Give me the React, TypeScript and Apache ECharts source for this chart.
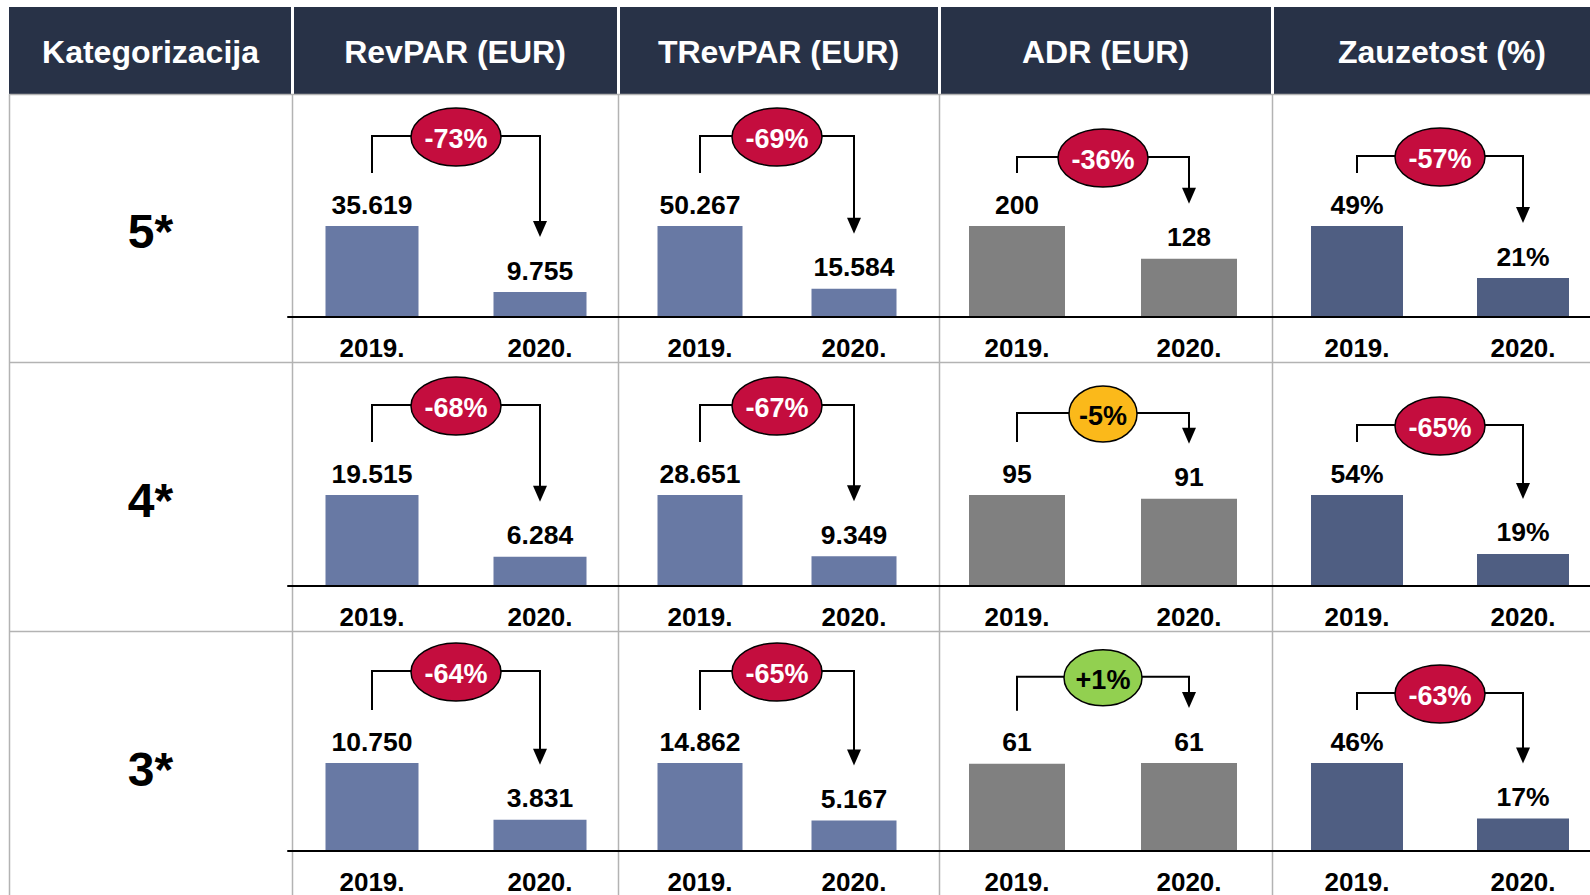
import React, { useEffect, useRef } from 'react';
import * as echarts from 'echarts';

// ---------- data ----------
const HEADERS = ['Kategorizacija', 'RevPAR (EUR)', 'TRevPAR (EUR)', 'ADR (EUR)', 'Zauzetost (%)'];
const CATEGORIES = ['5*', '4*', '3*'];
const YEARS = ['2019.', '2020.'];

const REVPAR_2019 = [35619, 19515, 10750];
const REVPAR_2020 = [9755, 6284, 3831];
const TREVPAR_2019 = [50267, 28651, 14862];
const TREVPAR_2020 = [15584, 9349, 5167];
const ADR_2019 = [200, 95, 60.7];
const ADR_2020 = [128, 91, 61.3];
const OCC_2019 = [49, 54, 46];
const OCC_2020 = [21, 19, 17];

const CHANGE_REVPAR = [-73, -68, -64];
const CHANGE_TREVPAR = [-69, -67, -65];
const CHANGE_ADR = [-36, -5, 1];
const CHANGE_OCC = [-57, -65, -63];

// ---------- layout / style ----------
const W = 1590;
const H = 895;
const CW = 1620; // chart canvas is a bit wider than the page: last column is cut by the page edge
const FONT = '"Liberation Sans", Arial, Helvetica, sans-serif';
const HEADER_TOP = 7;
const HEADER_BOTTOM = 94;
const COL_X = [9, 292, 618, 939, 1272, 1612];
const ROW_Y = [94, 362, 631, 900];
const BASELINES = [317, 586, 854];
const ROW_LABEL_Y = [231, 500, 769];
const BAR_AREA = 91;
const GRID_X = [
  [288, 336],
  [623, 308],
  [931, 344],
  [1274, 332],
];
const BAR_W = [93, 85, 96, 92];
const BAR_COLORS = ['#6879a4', '#6879a4', '#808080', '#4f5e82'];
const RISE = [
  [90, 90, 69, 70],
  [90, 90, 82, 70],
  [92, 92, 87, 70],
];
const HEADER_BG = '#283247';
const LINE_GRAY = '#b3b3b3';

const thousands = (v: number) => String(Math.round(v)).replace(/\B(?=(\d{3})+(?!\d))/g, '.');
const integer = (v: number) => String(Math.round(v));
const percent = (v: number) => Math.round(v) + '%';

const METRICS = [
  { v19: REVPAR_2019, v20: REVPAR_2020, ch: CHANGE_REVPAR, fmt: thousands },
  { v19: TREVPAR_2019, v20: TREVPAR_2020, ch: CHANGE_TREVPAR, fmt: thousands },
  { v19: ADR_2019, v20: ADR_2020, ch: CHANGE_ADR, fmt: integer },
  { v19: OCC_2019, v20: OCC_2020, ch: CHANGE_OCC, fmt: percent },
];

function badgeStyle(ch: number) {
  if (ch > 0) return { fill: '#92d050', text: '#000', rx: 39, ry: 28 };
  if (ch > -10) return { fill: '#fbb91a', text: '#000', rx: 34, ry: 28 };
  return { fill: '#c40d3e', text: '#fff', rx: 45, ry: 29 };
}

function buildOption() {
  const grid: any[] = [];
  const xAxis: any[] = [];
  const yAxis: any[] = [];
  const series: any[] = [];
  let idx = 0;
  CATEGORIES.forEach((_, r) => {
    METRICS.forEach((m, c) => {
      const base = BASELINES[r];
      grid.push({ left: GRID_X[c][0], width: GRID_X[c][1], top: base - BAR_AREA, height: BAR_AREA });
      xAxis.push({
        type: 'category',
        gridIndex: idx,
        data: YEARS,
        z: 10,
        axisTick: { show: false },
        axisLine: { show: true, lineStyle: { color: '#000', width: 2 } },
        axisLabel: { margin: 18, fontSize: 26, fontWeight: 'bold', color: '#000', fontFamily: FONT },
      });
      yAxis.push({
        type: 'value',
        gridIndex: idx,
        min: 0,
        max: 'dataMax',
        show: false,
        splitLine: { show: false },
      });
      const fmt = m.fmt;
      series.push({
        type: 'bar',
        xAxisIndex: idx,
        yAxisIndex: idx,
        barWidth: BAR_W[c],
        itemStyle: { color: BAR_COLORS[c] },
        label: {
          show: true,
          position: 'top',
          distance: 8,
          fontSize: 26.5,
          fontWeight: 'bold',
          color: '#000',
          fontFamily: FONT,
          formatter: (p: any) => fmt(p.value),
        },
        data: [m.v19[r], m.v20[r]],
      });
      const rise = RISE[r][c];
      series.push({
        type: 'custom',
        xAxisIndex: idx,
        yAxisIndex: idx,
        encode: { x: 0, y: [1, 2] },
        data: [[0, m.v19[r], m.v20[r], m.ch[r]]],
        z: 5,
        renderItem: (params: any, api: any) => {
          const p19 = api.coord([0, api.value(1)]);
          const p20 = api.coord([1, api.value(2)]);
          const ch = api.value(3);
          const lx = p19[0];
          const rx = p20[0];
          const ly = p19[1] - 53;
          const hy = p19[1] - rise;
          const tip = p20[1] - 55;
          const cx = (lx + rx) / 2;
          const b = badgeStyle(ch);
          const txt = (ch > 0 ? '+' : '') + ch + '%';
          return {
            type: 'group',
            children: [
              {
                type: 'polyline',
                shape: { points: [[lx, ly], [lx, hy], [rx, hy], [rx, tip - 14]] },
                style: { stroke: '#000', lineWidth: 2, fill: 'none' },
              },
              {
                type: 'polygon',
                shape: { points: [[rx - 7, tip - 16], [rx + 7, tip - 16], [rx, tip]] },
                style: { fill: '#000' },
              },
              {
                type: 'ellipse',
                shape: { cx, cy: hy + 1, rx: b.rx, ry: b.ry },
                style: { fill: b.fill, stroke: '#000', lineWidth: 1.5 },
              },
              {
                type: 'text',
                style: {
                  text: txt,
                  x: cx,
                  y: hy + 3,
                  fill: b.text,
                  font: `bold 27px ${FONT}`,
                  textAlign: 'center',
                  textVerticalAlign: 'middle',
                  align: 'center',
                  verticalAlign: 'middle',
                },
              },
            ],
          };
        },
      });
      idx++;
    });
  });

  const graphic: any[] = [];
  // header cells
  for (let i = 0; i < HEADERS.length; i++) {
    const x0 = i === 0 ? COL_X[0] : COL_X[i] + 2;
    const x1 = COL_X[i + 1] - 1;
    graphic.push({
      type: 'rect',
      z: -5,
      shape: { x: x0, y: HEADER_TOP, width: x1 - x0, height: HEADER_BOTTOM - HEADER_TOP },
      style: { fill: HEADER_BG },
    });
    graphic.push({
      type: 'text',
      z: 20,
      x: (COL_X[i] + COL_X[i + 1]) / 2,
      y: (HEADER_TOP + HEADER_BOTTOM) / 2 + 1,
      style: {
        text: HEADERS[i],
        fill: '#fff',
        font: `bold 32px ${FONT}`,
        textAlign: 'center',
        textVerticalAlign: 'middle',
        align: 'center',
        verticalAlign: 'middle',
      },
    });
  }
  // table lines
  for (let i = 0; i < 5; i++) {
    graphic.push({
      type: 'line',
      z: -5,
      shape: { x1: COL_X[i] + 0.5, y1: HEADER_BOTTOM, x2: COL_X[i] + 0.5, y2: H },
      style: { stroke: LINE_GRAY, lineWidth: 1.5 },
    });
  }
  for (let r = 0; r < 3; r++) {
    graphic.push({
      type: 'line',
      z: -5,
      shape: { x1: COL_X[0], y1: ROW_Y[r] + 0.5, x2: CW, y2: ROW_Y[r] + 0.5 },
      style: { stroke: LINE_GRAY, lineWidth: 1.5 },
    });
    graphic.push({
      type: 'text',
      z: 20,
      x: (COL_X[0] + COL_X[1]) / 2,
      y: ROW_LABEL_Y[r],
      style: {
        text: CATEGORIES[r],
        fill: '#000',
        font: `bold 48px ${FONT}`,
        textAlign: 'center',
        textVerticalAlign: 'middle',
        align: 'center',
        verticalAlign: 'middle',
      },
    });
  }

  return {
    animation: false,
    backgroundColor: '#ffffff',
    grid,
    xAxis,
    yAxis,
    series,
    graphic,
  };
}

export default function App() {
  const ref = useRef<HTMLDivElement>(null);
  useEffect(() => {
    if (!ref.current) return;
    const chart = echarts.init(ref.current, undefined, { renderer: 'svg', width: CW, height: H });
    chart.setOption(buildOption() as any);
    return () => chart.dispose();
  }, []);
  return (
    <div style={{ position: 'fixed', left: 0, top: 0, width: W, height: H, overflow: 'hidden', background: '#fff' }}>
      <div ref={ref} style={{ position: 'absolute', left: 0, top: 0, width: CW, height: H }} />
    </div>
  );
}
